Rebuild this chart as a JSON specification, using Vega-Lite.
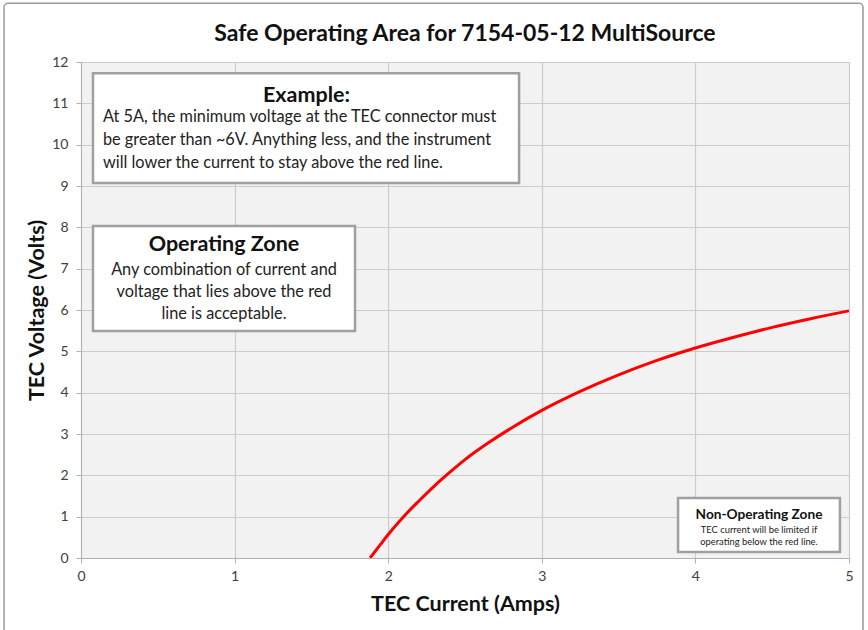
{
  "$schema": "https://vega.github.io/schema/vega-lite/v6.json",
  "width": 768,
  "height": 496,
  "autosize": {"type": "none"},
  "padding": {"left": 81, "top": 62, "right": 19, "bottom": 72},
  "background": "white",
  "title": {
    "text": "Safe Operating Area for 7154-05-12 MultiSource",
    "font": "Lato",
    "fontSize": 23,
    "fontWeight": "bold",
    "color": "#111111",
    "anchor": "middle",
    "frame": "group",
    "offset": -43
  },
  "config": {
    "font": "Lato",
    "view": {"fill": "#f2f2f2", "stroke": "#b0b0b0", "strokeWidth": 1},
    "axis": {
      "labelFont": "Lato",
      "labelFontSize": 14,
      "labelColor": "#404040",
      "labelFlush": false,
      "titleFont": "Lato",
      "titleFontSize": 21.5,
      "titleFontWeight": "bold",
      "titleColor": "#111111",
      "gridColor": "#cccccc",
      "gridWidth": 1.2,
      "domainColor": "#b0b0b0",
      "tickColor": "#b0b0b0",
      "tickSize": 5
    }
  },
  "datasets": {
    "curve": [
      {"current": 1.882, "voltage": 0.0},
      {"current": 1.95, "voltage": 0.33},
      {"current": 2.0, "voltage": 0.57},
      {"current": 2.1, "voltage": 1.0},
      {"current": 2.2, "voltage": 1.38},
      {"current": 2.3, "voltage": 1.74},
      {"current": 2.4, "voltage": 2.07},
      {"current": 2.5, "voltage": 2.38},
      {"current": 2.65, "voltage": 2.78},
      {"current": 2.8, "voltage": 3.14},
      {"current": 3.0, "voltage": 3.57},
      {"current": 3.25, "voltage": 4.03},
      {"current": 3.5, "voltage": 4.43},
      {"current": 3.75, "voltage": 4.78},
      {"current": 4.0, "voltage": 5.08},
      {"current": 4.25, "voltage": 5.34},
      {"current": 4.5, "voltage": 5.58},
      {"current": 4.75, "voltage": 5.79},
      {"current": 5.0, "voltage": 5.98}
    ],
    "frame": [
      {"x1": -0.501, "x2": 5.091, "y1": 13.42, "y2": -2.0}
    ],
    "boxes": [
      {"box": "Example", "x1": 0.078, "x2": 2.852, "y1": 11.73, "y2": 9.07},
      {"box": "Operating", "x1": 0.078, "x2": 1.784, "y1": 8.03, "y2": 5.49},
      {"box": "NonOperating", "x1": 3.887, "x2": 4.941, "y1": 1.45, "y2": 0.145}
    ],
    "notes": [
      {"role": "head", "x": 1.468, "y": 11.18, "text": "Example:"},
      {"role": "bodyLeft", "x": 0.143, "y": 10.67, "text": "At 5A, the minimum voltage at the TEC connector must"},
      {"role": "bodyLeft", "x": 0.143, "y": 10.11, "text": "be greater than ~6V. Anything less, and the instrument"},
      {"role": "bodyLeft", "x": 0.143, "y": 9.56, "text": "will lower the current to stay above the red line."},
      {"role": "head", "x": 0.931, "y": 7.57, "text": "Operating Zone"},
      {"role": "bodyCenter", "x": 0.931, "y": 6.97, "text": "Any combination of current and"},
      {"role": "bodyCenter", "x": 0.931, "y": 6.44, "text": "voltage that lies above the red"},
      {"role": "bodyCenter", "x": 0.931, "y": 5.9, "text": "line is acceptable."},
      {"role": "smallHead", "x": 4.414, "y": 1.04, "text": "Non-Operating Zone"},
      {"role": "smallBody", "x": 4.414, "y": 0.68, "text": "TEC current will be limited if"},
      {"role": "smallBody", "x": 4.414, "y": 0.39, "text": "operating below the red line."}
    ]
  },
  "layer": [
    {
      "data": {"name": "curve"},
      "mark": {"type": "line", "color": "#ff0000", "strokeWidth": 3, "interpolate": "monotone", "clip": true},
      "encoding": {
        "x": {
          "field": "current",
          "type": "quantitative",
          "scale": {"domain": [0, 5], "nice": false},
          "axis": {
            "title": "TEC Current (Amps)",
            "format": "d",
            "values": [0, 0.5, 1, 1.5, 2, 2.5, 3, 3.5, 4, 4.5, 5],
            "labelExpr": "datum.value % 1 === 0 ? datum.label : ''",
            "tickOpacity": {"condition": {"test": "datum.value % 1 === 0", "value": 1}, "value": 0},
            "labelPadding": 6,
            "titlePadding": 10
          }
        },
        "y": {
          "field": "voltage",
          "type": "quantitative",
          "scale": {"domain": [0, 12], "nice": false},
          "axis": {
            "title": "TEC Voltage (Volts)",
            "values": [0, 1, 2, 3, 4, 5, 6, 7, 8, 9, 10, 11, 12],
            "labelPadding": 8,
            "titlePadding": 3
          }
        }
      }
    },
    {
      "data": {"name": "frame"},
      "mark": {"type": "rect", "fill": null, "stroke": "#9a9a9a", "strokeWidth": 1.5, "cornerRadius": 4, "clip": false},
      "encoding": {
        "x": {"field": "x1", "type": "quantitative"},
        "x2": {"field": "x2"},
        "y": {"field": "y1", "type": "quantitative"},
        "y2": {"field": "y2"}
      }
    },
    {
      "data": {"name": "boxes"},
      "mark": {"type": "rect", "fill": "white", "stroke": "#a0a0a0", "strokeWidth": 2.5},
      "encoding": {
        "x": {"field": "x1", "type": "quantitative"},
        "x2": {"field": "x2"},
        "y": {"field": "y1", "type": "quantitative"},
        "y2": {"field": "y2"}
      }
    },
    {
      "data": {"name": "notes"},
      "transform": [{"filter": "datum.role === 'head'"}],
      "mark": {"type": "text", "font": "Lato", "fontSize": 21.5, "fontWeight": "bold", "color": "#111111", "align": "center", "baseline": "middle"},
      "encoding": {
        "x": {"field": "x", "type": "quantitative"},
        "y": {"field": "y", "type": "quantitative"},
        "text": {"field": "text"}
      }
    },
    {
      "data": {"name": "notes"},
      "transform": [{"filter": "datum.role === 'bodyLeft'"}],
      "mark": {"type": "text", "font": "Lato", "fontSize": 16.3, "color": "#222222", "align": "left", "baseline": "middle"},
      "encoding": {
        "x": {"field": "x", "type": "quantitative"},
        "y": {"field": "y", "type": "quantitative"},
        "text": {"field": "text"}
      }
    },
    {
      "data": {"name": "notes"},
      "transform": [{"filter": "datum.role === 'bodyCenter'"}],
      "mark": {"type": "text", "font": "Lato", "fontSize": 16.3, "color": "#222222", "align": "center", "baseline": "middle"},
      "encoding": {
        "x": {"field": "x", "type": "quantitative"},
        "y": {"field": "y", "type": "quantitative"},
        "text": {"field": "text"}
      }
    },
    {
      "data": {"name": "notes"},
      "transform": [{"filter": "datum.role === 'smallHead'"}],
      "mark": {"type": "text", "font": "Lato", "fontSize": 13.7, "fontWeight": "bold", "color": "#111111", "align": "center", "baseline": "middle"},
      "encoding": {
        "x": {"field": "x", "type": "quantitative"},
        "y": {"field": "y", "type": "quantitative"},
        "text": {"field": "text"}
      }
    },
    {
      "data": {"name": "notes"},
      "transform": [{"filter": "datum.role === 'smallBody'"}],
      "mark": {"type": "text", "font": "Lato", "fontSize": 9.4, "color": "#222222", "align": "center", "baseline": "middle"},
      "encoding": {
        "x": {"field": "x", "type": "quantitative"},
        "y": {"field": "y", "type": "quantitative"},
        "text": {"field": "text"}
      }
    }
  ]
}
